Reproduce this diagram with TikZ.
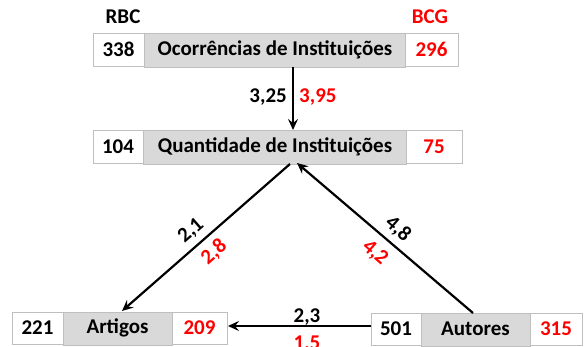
\documentclass[tikz,border=0pt]{standalone}
\usepackage{fontspec}
\setmainfont{Carlito}
\usetikzlibrary{arrows.meta}
\definecolor{cellgray}{HTML}{D9D9D9}
\definecolor{cellline}{HTML}{BFBFBF}
\definecolor{redtxt}{HTML}{FF0000}
\tikzset{
  cellw/.style={fill=white, draw=cellline, line width=0.8pt},
  cellg/.style={fill=cellgray, draw=cellline, line width=0.8pt},
  lbl/.style={font=\bfseries\fontsize{21}{21}\selectfont, inner sep=1pt},
  redlbl/.style={lbl, text=redtxt},
  conn/.style={line width=2.2pt, -{Stealth[length=11pt,width=10pt,inset=4pt]}},
}
\begin{document}
\begin{tikzpicture}[x=1pt,y=-1pt]
\useasboundingbox (0,0) rectangle (584,347);
% Top row
\draw[cellw] (93,33) rectangle (144,66);
\draw[cellg] (144,33) rectangle (405,67);
\draw[cellw] (405,33) rectangle (458,66);
\node[lbl] (tl) at (118.5,49.5) {338};
\node[lbl] (tm) at (275,49.5) {Ocorrências de Instituições};
\node[redlbl] (tr) at (431.5,49.5) {296};
\node[lbl] (rbc) at (123,17) {RBC};
\node[redlbl] (bcg) at (430,17) {BCG};
% Second row
\draw[cellw] (93,130) rectangle (143,163);
\draw[cellg] (143,130) rectangle (406,164);
\draw[cellw] (406,130) rectangle (462,163);
\node[lbl] (ql) at (118,146.5) {104};
\node[lbl] (qm) at (275,146.5) {Quantidade de Instituições};
\node[redlbl] (qr) at (434,146.5) {75};
% Artigos
\draw[cellw] (12,312) rectangle (63,344);
\draw[cellg] (63,312) rectangle (172,345);
\draw[cellw] (172,312) rectangle (227,344);
\node[lbl] (al) at (37.5,328) {221};
\node[lbl] (am) at (117.5,328) {Artigos};
\node[redlbl] (ar) at (199.5,328) {209};
% Autores
\draw[cellw] (371,313) rectangle (421,345);
\draw[cellg] (421,313) rectangle (530,346);
\draw[cellw] (530,313) rectangle (582,345);
\node[lbl] (ul) at (396,329) {501};
\node[lbl] (um) at (475.5,329) {Autores};
\node[redlbl] (ur) at (556,329) {315};
% connector end points
\coordinate (topout) at (293,67);
\coordinate (qin) at (293,130);
\coordinate (qoutl) at (290,164);
\coordinate (artin) at (122,311);
\coordinate (autout) at (473,313);
\coordinate (qinr) at (297,163);
\coordinate (autoutl) at (371,326);
\coordinate (artinr) at (228,326);
% connectors
\draw[conn] (topout) -- (qin);
\draw[conn] (qoutl) -- (artin);
\draw[conn] (autout) -- (qinr);
\draw[conn] (autoutl) -- (artinr);
% edge labels
\node[lbl, anchor=east] (v1) at (288,97) {3,25};
\node[redlbl, anchor=west] (v2) at (298,97) {3,95};
\node[lbl, rotate=41] (l1) at (191,231) {2,1};
\node[redlbl, rotate=41] (l2) at (214,252) {2,8};
\node[lbl, rotate=-41] (r1) at (398,229) {4,8};
\node[redlbl, rotate=-41] (r2) at (375,253) {4,2};
\node[lbl] (h1) at (307,317) {2,3};
\node[redlbl] (h2) at (307,344) {1,5};
\end{tikzpicture}
\end{document}
